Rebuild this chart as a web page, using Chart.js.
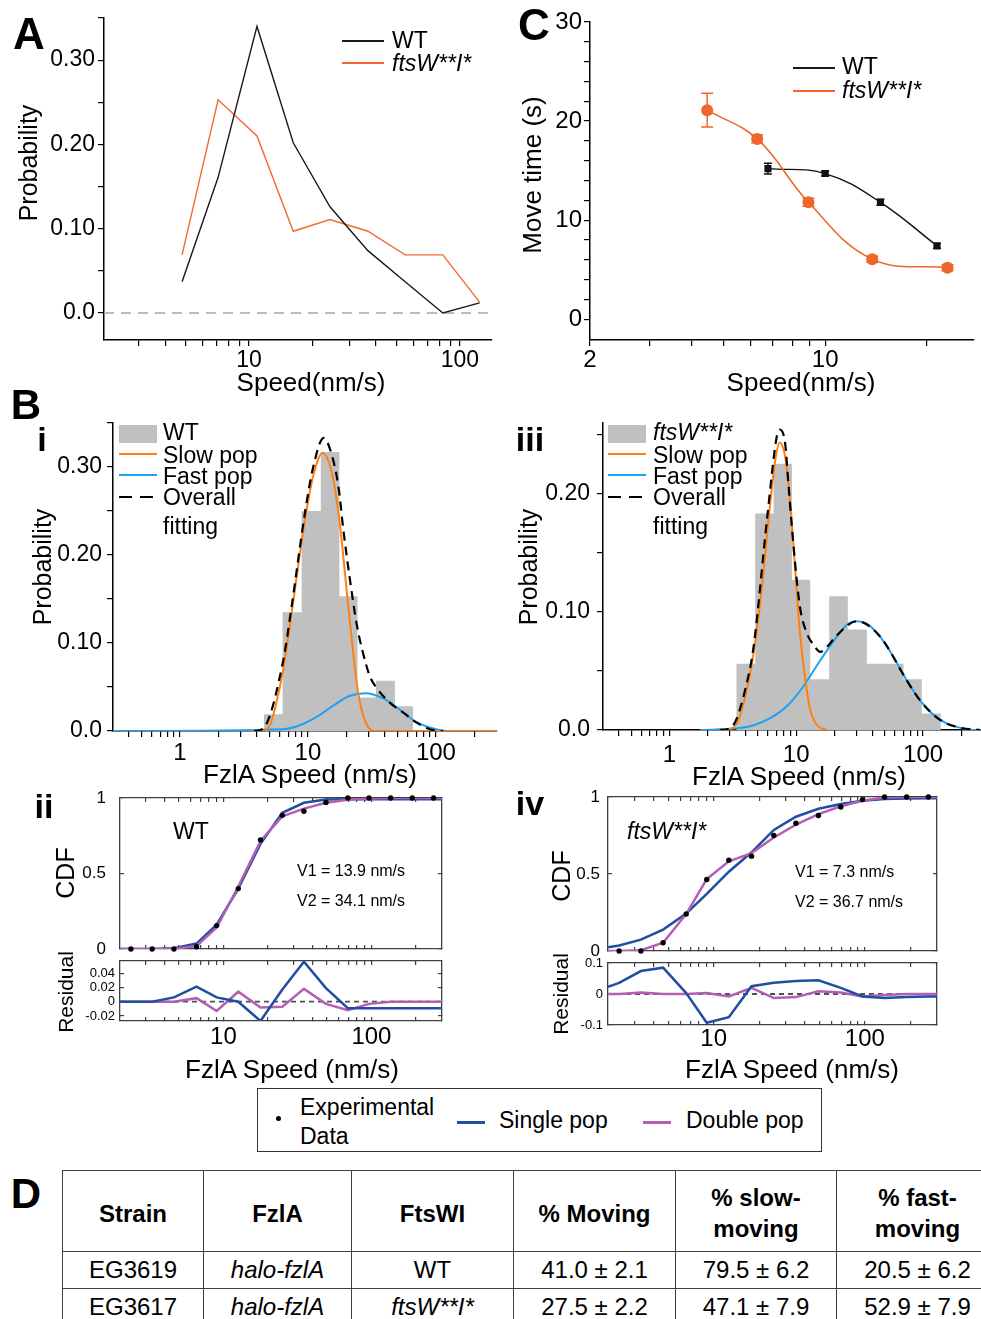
<!DOCTYPE html>
<html>
<head>
<meta charset="utf-8">
<script src="https://cdn.jsdelivr.net/npm/chart.js@4.4.1/dist/chart.umd.min.js"></script>
<style>
html, body { margin: 0; padding: 0; background: #fff; overflow: hidden; }
#fig { position: relative; width: 981px; height: 1319px; overflow: hidden;
       font-family: 'Liberation Sans', Arial, sans-serif; color: #000; }
canvas { position: absolute; }
.t { position: absolute; white-space: nowrap; line-height: 1; }
.c { transform: translate(-50%, -50%); }
.l { transform: translateY(-50%); }
.r { transform: translate(-50%, -50%) rotate(-90deg); }
.b { font-weight: bold; }
.it { font-style: italic; }
.ln { position: absolute; height: 2px; }
#tbl { position: absolute; left: 62px; top: 1170px; width: 936px; border-collapse: collapse; table-layout: fixed;
       font-size: 24px; }
#tbl th, #tbl td { border: 1.5px solid #404040; text-align: center; padding: 0; }
#tbl th { height: 76px; line-height: 31px; padding-top: 4px; }
#tbl td { height: 36px; }
</style>
</head>
<body>
<div id="fig">
  <canvas id="chartA" width="500" height="400" style="left:0;top:0"></canvas>
  <canvas id="chartC" width="481" height="400" style="left:500px;top:0"></canvas>
  <canvas id="chartBi" width="500" height="395" style="left:0;top:395px"></canvas>
  <canvas id="chartBiii" width="491" height="395" style="left:490px;top:395px"></canvas>
  <canvas id="cdfWT" width="490" height="165" style="left:0;top:790px"></canvas>
  <canvas id="resWT" width="490" height="125" style="left:0;top:955px"></canvas>
  <canvas id="cdfMut" width="491" height="167" style="left:490px;top:790px"></canvas>
  <canvas id="resMut" width="491" height="123" style="left:490px;top:957px"></canvas>

  <!-- panel letters -->
  <div class="t c b" style="left:29px;top:34px;font-size:44px">A</div>
  <div class="t c b" style="left:534px;top:25px;font-size:44px">C</div>
  <div class="t c b" style="left:26px;top:405px;font-size:42px">B</div>
  <div class="t c b" style="left:42px;top:439px;font-size:34px">i</div>
  <div class="t c b" style="left:530px;top:439px;font-size:34px">iii</div>
  <div class="t c b" style="left:44px;top:806px;font-size:34px">ii</div>
  <div class="t c b" style="left:530px;top:803px;font-size:34px">iv</div>
  <div class="t c b" style="left:26px;top:1194px;font-size:42px">D</div>

  <!-- axis titles -->
  <div class="t r" style="left:28px;top:163px;font-size:25px">Probability</div>
  <div class="t c" style="left:311px;top:382px;font-size:26px">Speed(nm/s)</div>
  <div class="t r" style="left:532px;top:175px;font-size:26px">Move time (s)</div>
  <div class="t c" style="left:801px;top:382px;font-size:26px">Speed(nm/s)</div>
  <div class="t r" style="left:42px;top:567px;font-size:25px">Probability</div>
  <div class="t c" style="left:310px;top:774px;font-size:26px">FzlA Speed (nm/s)</div>
  <div class="t r" style="left:528px;top:567px;font-size:25px">Probability</div>
  <div class="t c" style="left:799px;top:776px;font-size:26px">FzlA Speed (nm/s)</div>
  <div class="t r" style="left:65px;top:873px;font-size:25px">CDF</div>
  <div class="t r" style="left:65px;top:992px;font-size:21px">Residual</div>
  <div class="t c" style="left:292px;top:1069px;font-size:26px">FzlA Speed (nm/s)</div>
  <div class="t r" style="left:561px;top:876px;font-size:25px">CDF</div>
  <div class="t r" style="left:560px;top:994px;font-size:21px">Residual</div>
  <div class="t c" style="left:792px;top:1069px;font-size:26px">FzlA Speed (nm/s)</div>

  <!-- legend A -->
  <div class="ln" style="left:342px;top:40px;width:42px;background:#1a1a1a"></div>
  <div class="t l" style="left:392px;top:40px;font-size:23px">WT</div>
  <div class="ln" style="left:342px;top:62px;width:42px;background:#f26a30"></div>
  <div class="t l it" style="left:392px;top:63px;font-size:23px">ftsW**I*</div>

  <!-- legend C -->
  <div class="ln" style="left:793px;top:67px;width:42px;background:#1a1a1a"></div>
  <div class="t l" style="left:842px;top:66px;font-size:23px">WT</div>
  <div class="ln" style="left:793px;top:90px;width:42px;background:#f0652a"></div>
  <div class="t l it" style="left:842px;top:90px;font-size:23px">ftsW**I*</div>

  <!-- legend B i -->
  <div style="position:absolute;left:119px;top:425px;width:38px;height:18px;background:#c0c0c0"></div>
  <div class="t l" style="left:163px;top:432px;font-size:23px">WT</div>
  <div class="ln" style="left:119px;top:453px;width:38px;background:#ff8010"></div>
  <div class="t l" style="left:163px;top:455px;font-size:23px">Slow pop</div>
  <div class="ln" style="left:119px;top:474px;width:38px;background:#1ea1f2"></div>
  <div class="t l" style="left:163px;top:476px;font-size:23px">Fast pop</div>
  <div class="ln" style="left:119px;top:496px;width:13px;background:#000"></div>
  <div class="ln" style="left:140px;top:496px;width:13px;background:#000"></div>
  <div class="t l" style="left:163px;top:497px;font-size:23px">Overall</div>
  <div class="t l" style="left:163px;top:526px;font-size:23px">fitting</div>

  <!-- legend B iii -->
  <div style="position:absolute;left:608px;top:425px;width:38px;height:18px;background:#c0c0c0"></div>
  <div class="t l it" style="left:653px;top:432px;font-size:23px">ftsW**I*</div>
  <div class="ln" style="left:608px;top:453px;width:38px;background:#ff8010"></div>
  <div class="t l" style="left:653px;top:455px;font-size:23px">Slow pop</div>
  <div class="ln" style="left:608px;top:474px;width:38px;background:#1ea1f2"></div>
  <div class="t l" style="left:653px;top:476px;font-size:23px">Fast pop</div>
  <div class="ln" style="left:608px;top:496px;width:13px;background:#000"></div>
  <div class="ln" style="left:629px;top:496px;width:13px;background:#000"></div>
  <div class="t l" style="left:653px;top:497px;font-size:23px">Overall</div>
  <div class="t l" style="left:653px;top:526px;font-size:23px">fitting</div>

  <!-- CDF annotations -->
  <div class="t c" style="left:191px;top:831px;font-size:23px">WT</div>
  <div class="t l" style="left:297px;top:871px;font-size:16px">V1 = 13.9 nm/s</div>
  <div class="t l" style="left:297px;top:901px;font-size:16px">V2 = 34.1 nm/s</div>
  <div class="t l it" style="left:627px;top:831px;font-size:23px">ftsW**I*</div>
  <div class="t l" style="left:795px;top:872px;font-size:16px">V1 = 7.3 nm/s</div>
  <div class="t l" style="left:795px;top:902px;font-size:16px">V2 = 36.7 nm/s</div>

  <!-- CDF legend box -->
  <div style="position:absolute;left:257px;top:1088px;width:563px;height:62px;border:1.5px solid #333"></div>
  <div style="position:absolute;left:276px;top:1116px;width:5px;height:5px;border-radius:50%;background:#000"></div>
  <div class="t l" style="left:300px;top:1107px;font-size:23px">Experimental</div>
  <div class="t l" style="left:300px;top:1136px;font-size:23px">Data</div>
  <div class="ln" style="left:457px;top:1121px;width:28px;height:2.5px;background:#1f4ea3"></div>
  <div class="t l" style="left:499px;top:1120px;font-size:23px">Single pop</div>
  <div class="ln" style="left:643px;top:1121px;width:28px;height:2.5px;background:#b45eb4"></div>
  <div class="t l" style="left:686px;top:1120px;font-size:23px">Double pop</div>

  <!-- D table -->
  <table id="tbl">
    <colgroup>
      <col style="width:141px"><col style="width:148px"><col style="width:162px">
      <col style="width:162px"><col style="width:161px"><col style="width:162px">
    </colgroup>
    <tr><th>Strain</th><th>FzlA</th><th>FtsWI</th><th>% Moving</th><th>% slow-<br>moving</th><th>% fast-<br>moving</th></tr>
    <tr><td>EG3619</td><td class="it">halo-fzlA</td><td>WT</td><td>41.0 ± 2.1</td><td>79.5 ± 6.2</td><td>20.5 ± 6.2</td></tr>
    <tr><td>EG3617</td><td class="it">halo-fzlA</td><td class="it">ftsW**I*</td><td>27.5 ± 2.2</td><td>47.1 ± 7.9</td><td>52.9 ± 7.9</td></tr>
  </table>
</div>

<script>
// ---------- A: speed distributions ----------
const speedA = [4.81, 7.13, 10.9, 16.2, 24.2, 36.6, 55.0, 83.0, 124];
const probWT_A = [0.037, 0.161, 0.340, 0.202, 0.126, 0.074, 0.037, 0.0, 0.012];
const probMut_A = [0.069, 0.253, 0.210, 0.097, 0.111, 0.097, 0.069, 0.069, 0.013];
const rangeSpeedA = [2.05, 142];
const rangeProbA = [-0.032, 0.35];
const ticksSpeedA = [3, 4, 5, 6, 7, 8, 9, 10, 20, 30, 40, 50, 60, 70, 80, 90, 100];
const ticksProbA = [0, 0.05, 0.1, 0.15, 0.2, 0.25, 0.3, 0.35];
const labelsProbA = ['0.0', '', '0.10', '', '0.20', '', '0.30', ''];

// ---------- C: move time vs speed ----------
const speedC_mut = [4.46, 6.28, 8.92, 13.8, 23.1];
const timeC_mut = [21.1, 18.2, 11.8, 6.06, 5.2];
const errC_mut = [1.7, 0.4, 0.4, 0.3, 0.3];
const speedC_wt = [6.76, 10.0, 14.6, 21.5];
const timeC_wt = [15.2, 14.7, 11.8, 7.4];
const errC_wt = [0.55, 0.25, 0.3, 0.25];
const rangeSpeedC = [2, 27.6];
const rangeTimeC = [-2.1, 30];
const ticksSpeedC = [2, 3, 4, 5, 6, 7, 8, 9, 10, 20];
const ticksTimeC = [0, 2, 4, 6, 8, 10, 12, 14, 16, 18, 20, 22, 24, 26, 28, 30];
const labelsTimeC = ['0', '', '', '', '', '10', '', '', '', '', '20', '', '', '', '', '30'];

// ---------- B i: WT histogram + fits ----------
const binEdgesWT = [4.53, 6.34, 8.93, 12.6, 17.6, 24.4, 34.0, 47.8, 66.5];
const histWT = [0.019, 0.135, 0.250, 0.317, 0.153, 0.038, 0.057, 0.028];
const slowWT_x = [3.5, 4.48, 5.05, 5.52, 6.41, 7.45, 9.48, 11.0, 13.0, 15.3, 17.6, 20.3, 22.6, 24.7, 27.9, 32.4, 300];
const slowWT_y = [0, 0, 0.007, 0.025, 0.070, 0.134, 0.240, 0.290, 0.316, 0.295, 0.240, 0.153, 0.088, 0.043, 0.012, 0, 0];
const fastWT_x = [0.3, 6.41, 8.65, 11.7, 15.8, 21.3, 27.9, 38.8, 52.4, 70.6, 95.3, 129, 300];
const fastWT_y = [0, 0.002, 0.0065, 0.016, 0.029, 0.040, 0.043, 0.037, 0.024, 0.010, 0.003, 0, 0];
const allWT_x = [3.8, 4.48, 6.41, 7.45, 9.48, 11.0, 13.3, 14.9, 17.3, 18.9, 21.3, 24.0, 27.0, 30.5, 34.4, 43.8, 55.6, 70.6, 89.7, 114];
const allWT_y = [0, 0.003, 0.080, 0.141, 0.248, 0.300, 0.333, 0.320, 0.278, 0.229, 0.172, 0.122, 0.088, 0.062, 0.049, 0.032, 0.021, 0.0095, 0.002, 0];

// ---------- B iii: ftsW**I* histogram + fits ----------
const binEdgesMut = [3.37, 4.75, 6.63, 9.25, 12.9, 18.2, 25.5, 36.0, 50.8, 70.0, 97.7, 138];
const histMut = [0.056, 0.183, 0.225, 0.127, 0.043, 0.113, 0.085, 0.056, 0.056, 0.043, 0.014];
const slowMut_x = [2.84, 3.41, 3.96, 4.61, 5.37, 6.24, 6.84, 7.40, 8.18, 8.97, 9.82, 10.7, 11.8, 12.9, 14.6, 17.4];
const slowMut_y = [0, 0.0056, 0.028, 0.065, 0.121, 0.192, 0.228, 0.243, 0.231, 0.192, 0.135, 0.082, 0.042, 0.017, 0.004, 0];
const fastMut_x = [1.75, 3.41, 4.61, 6.24, 8.43, 11.4, 15.5, 20.9, 25.1, 30.1, 36.0, 45.8, 58.3, 74.3, 94.6, 120, 153, 195, 249, 286];
const fastMut_y = [0, 0.0014, 0.004, 0.010, 0.020, 0.037, 0.059, 0.079, 0.089, 0.092, 0.090, 0.079, 0.062, 0.042, 0.025, 0.013, 0.0056, 0.002, 0, 0];
const allMut_x = [2.5, 2.84, 3.31, 3.96, 4.61, 5.87, 7.05, 7.40, 8.18, 8.71, 9.53, 10.7, 12.1, 13.7, 15.5, 17.4, 20.9, 30.1, 45.8, 74.3, 94.6, 136, 195, 281];
const allMut_y = [0, 0.0006, 0.007, 0.034, 0.070, 0.177, 0.249, 0.254, 0.242, 0.206, 0.155, 0.104, 0.082, 0.072, 0.066, 0.070, 0.080, 0.092, 0.079, 0.042, 0.025, 0.0085, 0.002, 0];

const rangeFzlA_i = [0.3, 300];
const rangeFzlA_iii = [0.3, 286];
const rangeProb_i = [0, 0.35];
const rangeProb_iii = [0, 0.2595];
const ticksFzlA = [0.4, 0.5, 0.6, 0.7, 0.8, 0.9, 1, 2, 3, 4, 5, 6, 7, 8, 9, 10, 20, 30, 40, 50, 60, 70, 80, 90, 100, 200];
const ticksProb_i = [0, 0.05, 0.1, 0.15, 0.2, 0.25, 0.3, 0.35];
const labelsProb_i = ['0.0', '', '0.10', '', '0.20', '', '0.30', ''];
const ticksProb_iii = [0, 0.05, 0.1, 0.15, 0.2, 0.25];
const labelsProb_iii = ['0.0', '', '0.10', '', '0.20', ''];

// ---------- B ii / iv: CDF + residuals ----------
const cdfSpeed = [2.37, 3.30, 4.63, 6.58, 9.00, 12.6, 17.8, 25.0, 35.0, 49.3, 69.3, 96.4, 135, 189, 263];
const cdfWT = [0, 0, 0, 0.015, 0.155, 0.40, 0.723, 0.885, 0.912, 0.971, 1.0, 1.0, 1.0, 1.0, 1.0];
const cdfMut = [0, 0, 0.054, 0.24, 0.464, 0.59, 0.616, 0.75, 0.83, 0.88, 0.935, 0.983, 1.0, 1.0, 1.0];
const fitSpeed = [2, 2.37, 3.30, 4.63, 6.58, 9.00, 12.6, 17.8, 25.0, 35.0, 49.3, 69.3, 96.4, 135, 189, 263, 300];
const singleWT = [0, 0, 0, 0.005, 0.036, 0.161, 0.40, 0.696, 0.902, 0.968, 0.99, 0.991, 0.991, 0.991, 0.991, 0.991, 0.991];
const doubleWT = [0, 0, 0, 0, 0.020, 0.142, 0.414, 0.715, 0.878, 0.930, 0.968, 0.988, 0.997, 1, 1, 1, 1];
const resSingleWT = [0, 0, 0, 0.006, 0.021, 0.006, 0.0, -0.027, 0.017, 0.056, 0.019, -0.009, -0.009, -0.009, -0.009, -0.009, -0.009];
const resDoubleWT = [0, 0, 0, 0, 0.005, -0.013, 0.014, -0.008, -0.007, 0.018, -0.003, -0.012, -0.003, 0, 0, 0, 0];
const singleMut = [0.024, 0.036, 0.074, 0.139, 0.243, 0.371, 0.515, 0.641, 0.786, 0.872, 0.924, 0.955, 0.975, 0.987, 0.99, 0.992, 0.992];
const doubleMut = [0, 0, 0.005, 0.054, 0.24, 0.467, 0.582, 0.636, 0.737, 0.82, 0.889, 0.94, 0.975, 0.997, 1, 1, 1];
const resSingleMut = [0.023, 0.036, 0.074, 0.085, 0.003, -0.093, -0.075, 0.025, 0.036, 0.042, 0.044, 0.02, -0.008, -0.013, -0.01, -0.008, -0.008];
const resDoubleMut = [0, 0, 0.005, 0, 0, 0.003, -0.008, 0.02, -0.013, -0.01, 0.009, 0.005, -0.008, -0.003, 0, 0, 0];

const rangeCdfSpeed = [2, 300];
const ticksCdfSpeed = [3, 4, 5, 6, 7, 8, 9, 10, 20, 30, 40, 50, 60, 70, 80, 90, 100, 200];
const ticksCdf = [0, 0.5, 1];
const labelsCdf = ['0', '0.5', '1'];
const rangeResWT = [-0.027, 0.057];
const ticksResWT = [-0.02, 0, 0.02, 0.04];
const labelsResWT = ['-0.02', '0', '0.02', '0.04'];
const rangeResMut = [-0.1, 0.1];
const ticksResMut = [-0.1, 0, 0.1];
const labelsResMut = ['-0.1', '0', '0.1'];

// ---------- helpers ----------
Chart.defaults.font.family = "'Liberation Sans', Arial, sans-serif";
Chart.defaults.color = '#000';

function pts(xs, ys) {
    return xs.map((x, i) => ({ x: x, y: ys[i] }));
}

function logLabels(ticks, shown) {
    return ticks.map(v => shown.indexOf(v) >= 0 ? String(v) : '');
}

// fixed-size axis so the plot area lands where the figure has it
function axis(o) {
    return {
        type: o.type || 'linear',
        position: o.pos,
        min: o.min,
        max: o.max,
        bounds: 'data',
        afterBuildTicks: s => { s.ticks = o.ticks.map(v => ({ value: v })); },
        afterFit: s => {
            if (s.isHorizontal()) s.height = o.size; else s.width = o.size;
            s.paddingTop = s.paddingBottom = s.paddingLeft = s.paddingRight = 0;
        },
        grid: { drawOnChartArea: false, drawTicks: true, tickLength: o.tick, color: o.color || '#000', lineWidth: 1.2 },
        border: { display: true, color: o.color || '#000', width: o.bw || 1.5 },
        ticks: {
            display: !!o.labels, autoSkip: false, maxRotation: 0, minRotation: 0,
            padding: o.pad || 0, color: '#000', font: { size: o.fs || 23 },
            callback: (v, i) => o.labels ? o.labels[i] : ''
        }
    };
}

function opts(padding, scales) {
    return {
        responsive: false,
        animation: false,
        devicePixelRatio: 1,
        events: [],
        layout: { padding: padding },
        plugins: { legend: { display: false }, tooltip: { enabled: false } },
        scales: scales
    };
}

function line(data, color, width, extra) {
    return Object.assign({ data: data, borderColor: color, borderWidth: width, pointRadius: 0, fill: false }, extra || {});
}

// =========================
// A. Probability vs speed
// =========================
new Chart(document.getElementById('chartA'), {
    type: 'line',
    data: {
        datasets: [
            line(pts(speedA, probWT_A), '#1a1a1a', 1.4, { tension: 0 }),
            line(pts(speedA, probMut_A), '#f26a30', 1.4, { tension: 0 }),
            line(pts(rangeSpeedA, [0, 0]), '#a6a6a6', 1.4, { borderDash: [10, 7] })
        ]
    },
    options: opts({ top: 18, right: 8 }, {
        x: axis({ type: 'logarithmic', pos: 'bottom', min: rangeSpeedA[0], max: rangeSpeedA[1],
                  ticks: ticksSpeedA, labels: logLabels(ticksSpeedA, [10, 100]), size: 60, tick: 6, pad: 1 }),
        y: axis({ pos: 'left', min: rangeProbA[0], max: rangeProbA[1],
                  ticks: ticksProbA, labels: labelsProbA, size: 104, tick: 6, pad: 3 })
    })
});

// =========================
// C. Move time vs speed
// =========================
const orangeC = '#f0652a';
let errBars = [];
speedC_mut.forEach((x, i) => {
    errBars.push(line([{ x: x, y: timeC_mut[i] - errC_mut[i] }, { x: x, y: timeC_mut[i] + errC_mut[i] }], orangeC, 1.5,
        { pointStyle: 'line', pointRadius: 6, pointBorderColor: orangeC, pointBorderWidth: 1.5 }));
});
speedC_wt.forEach((x, i) => {
    errBars.push(line([{ x: x, y: timeC_wt[i] - errC_wt[i] }, { x: x, y: timeC_wt[i] + errC_wt[i] }], '#111', 1.5,
        { pointStyle: 'line', pointRadius: 4, pointBorderColor: '#111', pointBorderWidth: 1.5 }));
});

new Chart(document.getElementById('chartC'), {
    type: 'line',
    data: {
        datasets: [
            line(pts(speedC_mut, timeC_mut), orangeC, 1.5, {
                tension: 0.4, pointRadius: 6, pointStyle: 'circle',
                pointBackgroundColor: orangeC, pointBorderColor: orangeC, pointBorderWidth: 0
            }),
            line(pts(speedC_wt, timeC_wt), '#111', 1.4, {
                tension: 0.4, pointRadius: 5, pointStyle: 'rect',
                pointBackgroundColor: '#111', pointBorderColor: '#111', pointBorderWidth: 0
            })
        ].concat(errBars)
    },
    options: opts({ top: 22, right: 1 }, {
        x: axis({ type: 'logarithmic', pos: 'bottom', min: rangeSpeedC[0], max: rangeSpeedC[1],
                  ticks: ticksSpeedC, labels: logLabels(ticksSpeedC, [2, 10]), size: 60, tick: 6, pad: 0, fs: 24 }),
        y: axis({ pos: 'left', min: rangeTimeC[0], max: rangeTimeC[1],
                  ticks: ticksTimeC, labels: labelsTimeC, size: 90, tick: 6, pad: 2, fs: 24 })
    })
});

// =========================
// B i / iii. Histograms with fits
// =========================
function histChart(id, edges, heights, slow, fast, all, xRange, yRange, yTicks, yLabels, padRight, xPad, yPad, xSize) {
    let bars = edges.slice(0, -1).map((e, i) => ({ x: e, y: heights[i] }));
    bars.push({ x: edges[edges.length - 1], y: 0 });
    new Chart(document.getElementById(id), {
        type: 'line',
        data: {
            datasets: [
                line(all, '#000', 2.2, { borderDash: [9, 6], cubicInterpolationMode: 'monotone', order: 0 }),
                line(slow, '#ff8010', 2, { cubicInterpolationMode: 'monotone', order: 1 }),
                line(fast, '#1ea1f2', 2, { cubicInterpolationMode: 'monotone', order: 2 }),
                line(bars, '#c0c0c0', 0, { stepped: true, fill: 'origin', backgroundColor: '#c0c0c0', order: 3 })
            ]
        },
        options: opts({ top: 28, right: padRight }, {
            x: axis({ type: 'logarithmic', pos: 'bottom', min: xRange[0], max: xRange[1],
                      ticks: ticksFzlA, labels: logLabels(ticksFzlA, [1, 10, 100]), size: xSize, tick: 6, pad: xPad, fs: 24 }),
            y: axis({ pos: 'left', min: yRange[0], max: yRange[1],
                      ticks: yTicks, labels: yLabels, size: 113, tick: 6, pad: yPad })
        })
    });
}

histChart('chartBi', binEdgesWT, histWT, pts(slowWT_x, slowWT_y), pts(fastWT_x, fastWT_y), pts(allWT_x, allWT_y),
          rangeFzlA_i, rangeProb_i, ticksProb_i, labelsProb_i, 3, 2, 5, 59);
histChart('chartBiii', binEdgesMut, histMut, pts(slowMut_x, slowMut_y), pts(fastMut_x, fastMut_y), pts(allMut_x, allMut_y),
          rangeFzlA_iii, rangeProb_iii, ticksProb_iii, labelsProb_iii, 0, 5, 7, 60);

// =========================
// B ii / iv. CDF with single / double population fits
// =========================
const boxColor = '#404040';
const blueFit = '#1f4ea3';
const pinkFit = '#b45eb4';

function boxScales(yRange, yTicks, yLabels, yFs, yPad, yWidth, xLabels, xSize, xPad) {
    return {
        x: axis({ type: 'logarithmic', pos: 'bottom', min: rangeCdfSpeed[0], max: rangeCdfSpeed[1], ticks: ticksCdfSpeed,
                  labels: xLabels, size: xSize, tick: -4, pad: xPad, fs: 24, color: boxColor, bw: 1.3 }),
        x2: axis({ type: 'logarithmic', pos: 'top', min: rangeCdfSpeed[0], max: rangeCdfSpeed[1], ticks: ticksCdfSpeed,
                   size: 0, tick: -4, color: boxColor, bw: 1.3 }),
        y: axis({ pos: 'left', min: yRange[0], max: yRange[1], ticks: yTicks, labels: yLabels,
                  size: yWidth, tick: -4, pad: yPad, fs: yFs, color: boxColor, bw: 1.3 }),
        y2: axis({ pos: 'right', min: yRange[0], max: yRange[1], ticks: yTicks,
                   size: 0, tick: -4, color: boxColor, bw: 1.3 })
    };
}

function cdfChart(id, data, single, dbl, pad, yWidth, yPad) {
    new Chart(document.getElementById(id), {
        type: 'line',
        data: {
            datasets: [
                line(pts(cdfSpeed, data), '#000', 0, {
                    showLine: false, pointRadius: 2.7, pointBackgroundColor: '#000', pointBorderWidth: 0, clip: false, order: 0
                }),
                line(pts(fitSpeed, dbl), pinkFit, 2.5, { tension: 0, order: 1 }),
                line(pts(fitSpeed, single), blueFit, 2.5, { tension: 0, order: 2 })
            ]
        },
        options: opts(pad, boxScales([0, 1], ticksCdf, labelsCdf, 17, yPad, yWidth, null, 6, 0))
    });
}

function resChart(id, rs, rd, yRange, yTicks, yLabels, pad, yWidth, yPad, xSize, xPad) {
    new Chart(document.getElementById(id), {
        type: 'line',
        data: {
            datasets: [
                line(pts(rangeCdfSpeed, [0, 0]), '#505050', 1.8, { borderDash: [5, 4], order: 2 }),
                line(pts(fitSpeed, rd), pinkFit, 2.5, { tension: 0, order: 1 }),
                line(pts(fitSpeed, rs), blueFit, 2.5, { tension: 0, order: 0 })
            ]
        },
        options: opts(pad, boxScales(yRange, yTicks, yLabels, 13, yPad, yWidth,
                                     logLabels(ticksCdfSpeed, [10, 100]), xSize, xPad))
    });
}

cdfChart('cdfWT', cdfWT, singleWT, doubleWT, { top: 8, right: 48 }, 120, 18);
resChart('resWT', resSingleWT, resDoubleWT, rangeResWT, ticksResWT, labelsResWT, { top: 6, right: 48 }, 120, 9, 59, 6);
cdfChart('cdfMut', cdfMut, singleMut, doubleMut, { top: 7, right: 44 }, 118, 12);
resChart('resMut', resSingleMut, resDoubleMut, rangeResMut, ticksResMut, labelsResMut, { top: 6, right: 44 }, 118, 9, 55, 4);
</script>
</body>
</html>
